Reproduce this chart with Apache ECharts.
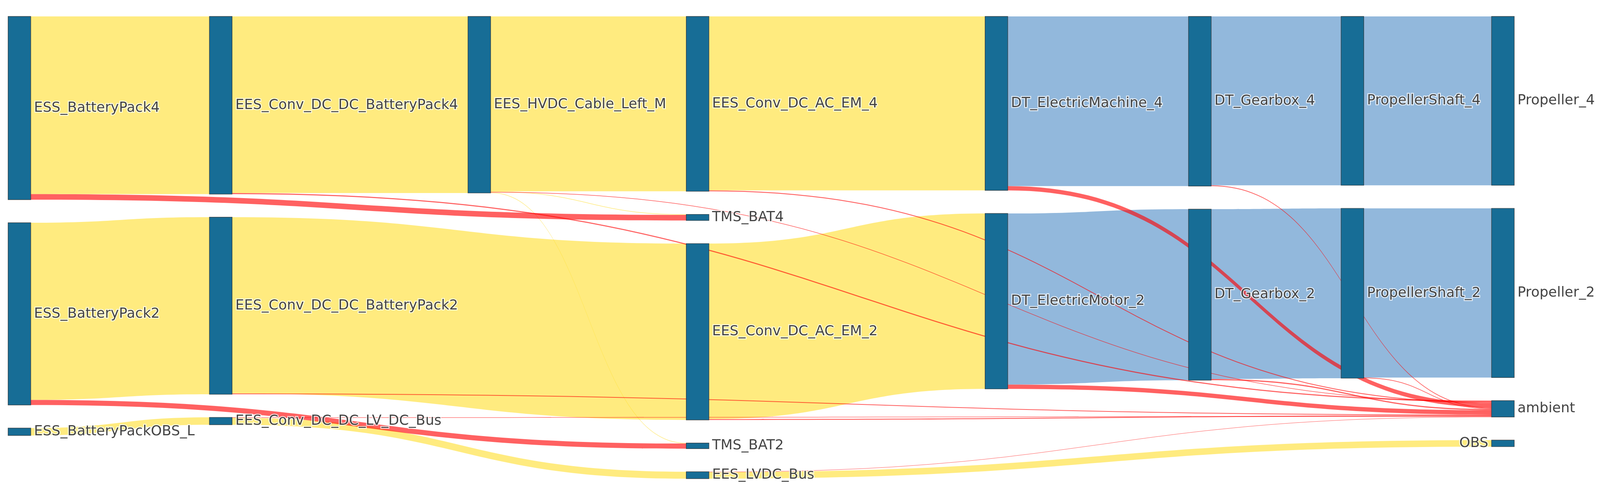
<!DOCTYPE html>
<html>
<head>
<meta charset="utf-8">
<script src="https://cdn.jsdelivr.net/npm/echarts/dist/echarts.min.js"></script>
<style>
html,body{margin:0;padding:0;background:#ffffff;overflow:hidden;width:100%;height:100%;}
#chart{width:100vw;height:100vh;}
</style>
</head>
<body>
<div id="chart"></div>
<script>
// ---- data (power flows, kW) ----
const nodeNames = [
  "ESS_BatteryPack4", "ESS_BatteryPack2", "ESS_BatteryPackOBS_L",
  "EES_Conv_DC_DC_BatteryPack4", "EES_Conv_DC_DC_BatteryPack2", "EES_Conv_DC_DC_LV_DC_Bus",
  "EES_HVDC_Cable_Left_M",
  "EES_Conv_DC_AC_EM_4", "TMS_BAT4", "EES_Conv_DC_AC_EM_2", "TMS_BAT2", "EES_LVDC_Bus",
  "DT_ElectricMachine_4", "DT_ElectricMotor_2",
  "DT_Gearbox_4", "DT_Gearbox_2",
  "PropellerShaft_4", "PropellerShaft_2",
  "Propeller_4", "Propeller_2", "ambient", "OBS"
];
// stage of each node in the energy chain
const nodeLayer = [0, 0, 0, 1, 1, 1, 2, 3, 3, 3, 3, 3, 4, 4, 5, 5, 6, 6, 7, 7, 7, 7];

const linkSource = [
  "ESS_BatteryPack4", "ESS_BatteryPack4",
  "EES_Conv_DC_DC_BatteryPack4", "EES_Conv_DC_DC_BatteryPack4",
  "EES_HVDC_Cable_Left_M", "EES_HVDC_Cable_Left_M", "EES_HVDC_Cable_Left_M", "EES_HVDC_Cable_Left_M",
  "EES_Conv_DC_AC_EM_4", "EES_Conv_DC_AC_EM_4",
  "DT_ElectricMachine_4", "DT_ElectricMachine_4",
  "DT_Gearbox_4", "DT_Gearbox_4",
  "PropellerShaft_4",
  "ESS_BatteryPack2", "ESS_BatteryPack2",
  "EES_Conv_DC_DC_BatteryPack2", "EES_Conv_DC_DC_BatteryPack2",
  "EES_Conv_DC_AC_EM_2", "EES_Conv_DC_AC_EM_2",
  "DT_ElectricMotor_2", "DT_ElectricMotor_2",
  "DT_Gearbox_2", "DT_Gearbox_2",
  "PropellerShaft_2", "PropellerShaft_2",
  "ESS_BatteryPackOBS_L",
  "EES_Conv_DC_DC_LV_DC_Bus", "EES_Conv_DC_DC_LV_DC_Bus",
  "EES_LVDC_Bus", "EES_LVDC_Bus"
];
const linkTarget = [
  "EES_Conv_DC_DC_BatteryPack4", "TMS_BAT4",
  "EES_HVDC_Cable_Left_M", "ambient",
  "EES_Conv_DC_AC_EM_4", "TMS_BAT4", "TMS_BAT2", "ambient",
  "DT_ElectricMachine_4", "ambient",
  "DT_Gearbox_4", "ambient",
  "PropellerShaft_4", "ambient",
  "Propeller_4",
  "EES_Conv_DC_DC_BatteryPack2", "TMS_BAT2",
  "EES_Conv_DC_AC_EM_2", "ambient",
  "DT_ElectricMotor_2", "ambient",
  "DT_Gearbox_2", "ambient",
  "PropellerShaft_2", "ambient",
  "Propeller_2", "ambient",
  "EES_Conv_DC_DC_LV_DC_Bus",
  "EES_LVDC_Bus", "ambient",
  "OBS", "ambient"
];
const linkValue = [
  1590, 50,
  1580, 10,
  1565, 5, 5, 5,
  1557, 8,
  1518, 39,
  1511, 7,
  1511,
  1585, 46,
  1578, 7,
  1570, 8,
  1531, 39,
  1520, 11,
  1514, 6,
  66,
  62, 4,
  59, 3
];
// energy form carried by each link
const linkKind = [
  "electric", "loss",
  "electric", "loss",
  "electric", "electric", "electric", "loss",
  "electric", "loss",
  "mechanical", "loss",
  "mechanical", "loss",
  "mechanical",
  "electric", "loss",
  "electric", "loss",
  "electric", "loss",
  "mechanical", "loss",
  "mechanical", "loss",
  "mechanical", "loss",
  "electric",
  "electric", "loss",
  "electric", "loss"
];

// ---- layout & styling ----
const BASE_W = 4367, BASE_H = 1254;
// horizontal placement of each stage, in layer units
const layerPlacement = [0, 0.95, 2.17, 3.2, 4.61, 5.57, 6.29, 7];
const kindColor = {
  electric: "rgba(255,215,0,0.5)",
  mechanical: "rgba(38,114,185,0.5)",
  loss: "rgba(255,0,0,0.62)"
};
const kindDrawOrder = { electric: 0, mechanical: 1, loss: 2 };

const el = document.getElementById("chart");
const W = el.clientWidth || BASE_W;
const H = el.clientHeight || BASE_H;
const sx = W / BASE_W, sy = H / BASE_H, sf = Math.min(sx, sy);

const nodes = nodeNames.map(function (name, i) {
  const item = { name: name, depth: layerPlacement[nodeLayer[i]] };
  if (name === "OBS") {
    item.label = { position: "left" };
  }
  return item;
});

const linkIdx = linkSource.map(function (s, i) { return i; });
linkIdx.sort(function (a, b) {
  return (kindDrawOrder[linkKind[a]] - kindDrawOrder[linkKind[b]]) || (a - b);
});
const links = linkIdx.map(function (i) {
  return {
    source: linkSource[i],
    target: linkTarget[i],
    value: linkValue[i],
    lineStyle: { color: kindColor[linkKind[i]] }
  };
});

const chart = echarts.init(el, null, { renderer: "canvas", width: W, height: H });
chart.setOption({
  backgroundColor: "#ffffff",
  animation: false,
  series: [{
    type: "sankey",
    left: 22 * sx,
    top: 42 * sy,
    width: 4111 * sx,
    height: 1183 * sy,
    nodeWidth: 62 * sx,
    nodeGap: 59 * sy,
    layoutIterations: 0,
    nodeAlign: "left",
    draggable: false,
    emphasis: { disabled: true },
    data: nodes,
    links: links,
    itemStyle: {
      color: "#176d96",
      borderColor: "rgba(40,40,40,0.75)",
      borderWidth: 1.5 * sf
    },
    lineStyle: { curveness: 0.5, opacity: 1 },
    label: {
      show: true,
      position: "right",
      distance: 8 * sx,
      fontFamily: "DejaVu Sans",
      fontSize: 38 * sx,
      color: "#444444",
      textBorderColor: "rgba(255,255,255,0.75)",
      textBorderWidth: 5 * sf
    }
  }]
});
</script>
</body>
</html>
